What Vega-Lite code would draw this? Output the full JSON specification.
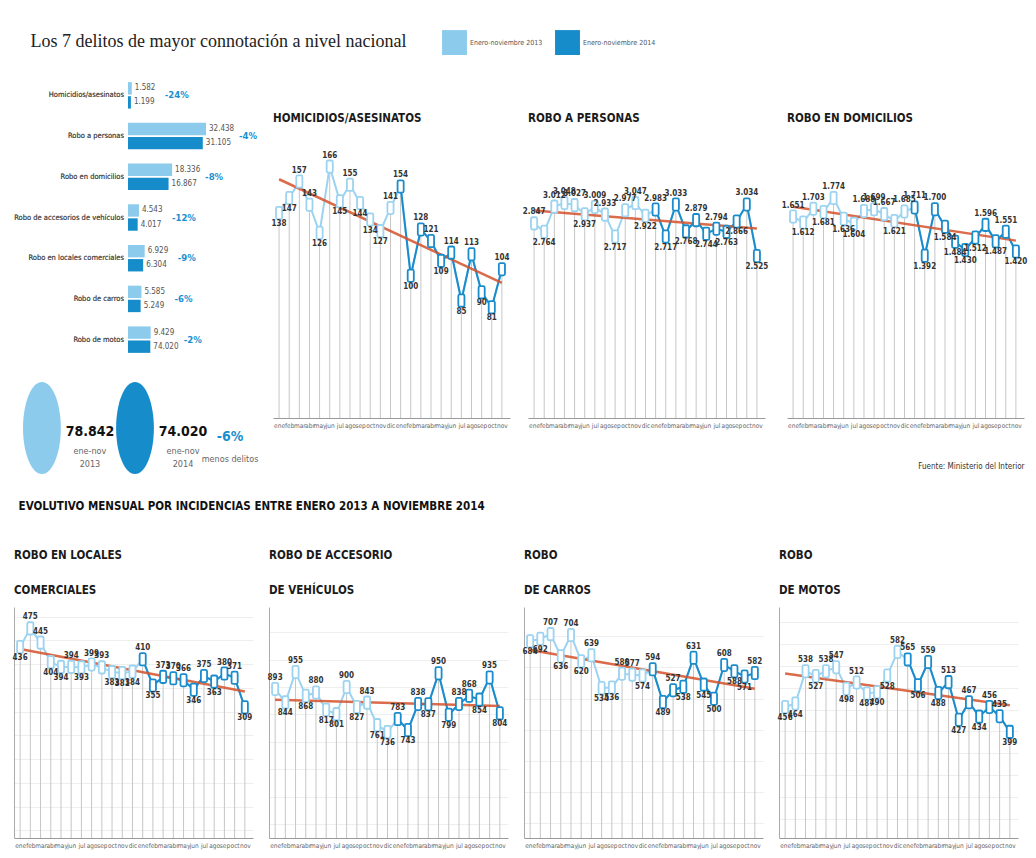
{
 "$schema": "https://vega.github.io/schema/vega-lite/v6.json",
 "padding": {"left": 12, "top": 30, "right": 0, "bottom": 4},
 "background": "white",
 "title": {"text": "Los 7 delitos de mayor connotación a nivel nacional", "anchor": "start", "frame": "bounds", "font": "Liberation Serif", "fontSize": 18, "fontWeight": "normal", "color": "#222", "dx": 18, "offset": -21},
 "datasets": {
  "m": [
   {"i":0,"yr":2013,"hom":138,"per":2847,"dom":1651,"loc":436,"acc":893,"car":684,"mot":456},
   {"i":1,"yr":2013,"hom":147,"per":2764,"dom":1612,"loc":475,"acc":844,"car":692,"mot":464},
   {"i":2,"yr":2013,"hom":157,"per":3012,"dom":1703,"loc":445,"acc":955,"car":707,"mot":538},
   {"i":3,"yr":2013,"hom":143,"per":3048,"dom":1681,"loc":404,"acc":868,"car":636,"mot":527},
   {"i":4,"yr":2013,"hom":126,"per":3027,"dom":1774,"loc":394,"acc":880,"car":704,"mot":538},
   {"i":5,"yr":2013,"hom":166,"per":2937,"dom":1636,"loc":394,"acc":817,"car":620,"mot":547},
   {"i":6,"yr":2013,"hom":145,"per":3009,"dom":1604,"loc":393,"acc":801,"car":639,"mot":498},
   {"i":7,"yr":2013,"hom":155,"per":2933,"dom":1688,"loc":399,"acc":900,"car":534,"mot":512},
   {"i":8,"yr":2013,"hom":144,"per":2717,"dom":1699,"loc":393,"acc":827,"car":536,"mot":487},
   {"i":9,"yr":2013,"hom":134,"per":2977,"dom":1667,"loc":383,"acc":843,"car":580,"mot":490},
   {"i":10,"yr":2013,"hom":127,"per":3047,"dom":1621,"loc":381,"acc":761,"car":577,"mot":528},
   {"i":11,"yr":2013,"hom":141,"per":2922,"dom":1685,"loc":384,"acc":736,"car":574,"mot":582},
   {"i":12,"yr":2014,"hom":154,"per":2983,"dom":1711,"loc":410,"acc":783,"car":594,"mot":565},
   {"i":13,"yr":2014,"hom":100,"per":2717,"dom":1392,"loc":355,"acc":743,"car":489,"mot":506},
   {"i":14,"yr":2014,"hom":128,"per":3033,"dom":1700,"loc":373,"acc":838,"car":527,"mot":559},
   {"i":15,"yr":2014,"hom":121,"per":2768,"dom":1584,"loc":370,"acc":837,"car":538,"mot":488},
   {"i":16,"yr":2014,"hom":109,"per":2879,"dom":1484,"loc":366,"acc":950,"car":631,"mot":513},
   {"i":17,"yr":2014,"hom":114,"per":2744,"dom":1430,"loc":346,"acc":799,"car":545,"mot":427},
   {"i":18,"yr":2014,"hom":85,"per":2794,"dom":1512,"loc":375,"acc":838,"car":500,"mot":467},
   {"i":19,"yr":2014,"hom":113,"per":2763,"dom":1596,"loc":363,"acc":868,"car":608,"mot":434},
   {"i":20,"yr":2014,"hom":90,"per":2866,"dom":1487,"loc":380,"acc":854,"car":588,"mot":456},
   {"i":21,"yr":2014,"hom":81,"per":3034,"dom":1551,"loc":371,"acc":935,"car":571,"mot":435},
   {"i":22,"yr":2014,"hom":104,"per":2525,"dom":1420,"loc":309,"acc":804,"car":582,"mot":399}
  ],
  "bars": [
   {"d":"Homicidios/asesinatos","a":"Enero-noviembre 2013","v":1582,"lab":"1.582","pct":"-24%"},
   {"d":"Homicidios/asesinatos","a":"Enero-noviembre 2014","v":1199,"lab":"1.199"},
   {"d":"Robo a personas","a":"Enero-noviembre 2013","v":32438,"lab":"32.438","pct":"-4%"},
   {"d":"Robo a personas","a":"Enero-noviembre 2014","v":31105,"lab":"31.105"},
   {"d":"Robo en domicilios","a":"Enero-noviembre 2013","v":18336,"lab":"18.336","pct":"-8%"},
   {"d":"Robo en domicilios","a":"Enero-noviembre 2014","v":16867,"lab":"16.867"},
   {"d":"Robo de accesorios de vehículos","a":"Enero-noviembre 2013","v":4543,"lab":"4.543","pct":"-12%"},
   {"d":"Robo de accesorios de vehículos","a":"Enero-noviembre 2014","v":4017,"lab":"4.017"},
   {"d":"Robo en locales comerciales","a":"Enero-noviembre 2013","v":6929,"lab":"6.929","pct":"-9%"},
   {"d":"Robo en locales comerciales","a":"Enero-noviembre 2014","v":6304,"lab":"6.304"},
   {"d":"Robo de carros","a":"Enero-noviembre 2013","v":5585,"lab":"5.585","pct":"-6%"},
   {"d":"Robo de carros","a":"Enero-noviembre 2014","v":5249,"lab":"5.249"},
   {"d":"Robo de motos","a":"Enero-noviembre 2013","v":9429,"lab":"9.429","pct":"-2%"},
   {"d":"Robo de motos","a":"Enero-noviembre 2014","v":9279,"lab":"74.020"}
  ]
 },
 "spacing": 23,
 "vconcat": [
  {"spacing": 12, "hconcat": [
   {"spacing": 17, "vconcat": [
    {"width": 208, "height": 287, "data": {"name": "bars"},
     "encoding": {"y": {"field": "d", "type": "nominal", "sort": null, "title": null, "scale": {"paddingInner": 0.35, "paddingOuter": 0.2}, "axis": null}},
     "layer": [
      {"mark": {"type": "bar"}, "encoding": {"x": {"field": "v", "type": "quantitative", "scale": {"domain": [-47410, 39090], "nice": false}, "axis": null}, "yOffset": {"field": "a", "type": "nominal", "scale": {"paddingInner": 0.12}}, "color": {"field": "a", "type": "nominal", "scale": {"range": ["#8ccbec", "#168ccb"]}, "legend": {"title": null, "orient": "none", "legendX": 428, "legendY": -44, "direction": "horizontal", "symbolType": "square", "symbolSize": 620, "symbolStrokeWidth": 0, "symbolOpacity": 1, "labelFontSize": 7, "labelColor": "#555", "labelOffset": 3, "columnPadding": 12}}}},
      {"mark": {"type": "text", "align": "right", "dx": -4, "fontSize": 7.5, "color": "#555"}, "encoding": {"x": {"datum": 0, "type": "quantitative"}, "text": {"field": "d"}}},
      {"mark": {"type": "text", "align": "left", "dx": 3, "fontSize": 8, "color": "#555"}, "encoding": {"x": {"field": "v", "type": "quantitative"}, "yOffset": {"field": "a", "type": "nominal", "scale": {"paddingInner": 0.12}}, "text": {"field": "lab"}}},
      {"transform": [{"joinaggregate": [{"op": "max", "field": "v", "as": "mx"}], "groupby": ["d"]}, {"filter": "datum.a == 'Enero-noviembre 2013'"}], "mark": {"type": "text", "align": "left", "dx": 33, "fontSize": 9.5, "fontWeight": "bold", "color": "#1a8fd0"}, "encoding": {"x": {"field": "mx", "type": "quantitative"}, "text": {"field": "pct"}}}
     ]},
    {"width": 242, "height": 100,
     "data": {"values": [{"k":"2013","n":"78.842","l1":"ene-nov","l2":"2013"},{"k":"2014","n":"74.020","l1":"ene-nov","l2":"2014"},{"k":"dif","n":"-6%","l1":"menos delitos","l2":""}]},
     "encoding": {"x": {"field": "k", "type": "nominal", "sort": null, "scale": {"type": "point", "padding": 0.3}, "axis": null}},
     "layer": [
      {"transform": [{"filter": "datum.k != 'dif'"}], "mark": {"type": "point", "shape": "M0,-1A0.41,1,0,1,1,0,1A0.41,1,0,1,1,0,-1Z", "size": 8500, "filled": true, "opacity": 1, "strokeWidth": 0}, "encoding": {"color": {"condition": {"test": "datum.k == '2014'", "value": "#168ccb"}, "value": "#8ccbec"}}},
      {"transform": [{"filter": "datum.k != 'dif'"}], "mark": {"type": "text", "dx": 48, "dy": 4, "fontSize": 14, "fontWeight": "bold", "color": "#111"}, "encoding": {"text": {"field": "n"}}},
      {"transform": [{"filter": "datum.k != 'dif'"}], "mark": {"type": "text", "dx": 48, "dy": 23, "fontSize": 9, "color": "#666"}, "encoding": {"text": {"field": "l1"}}},
      {"transform": [{"filter": "datum.k != 'dif'"}], "mark": {"type": "text", "dx": 48, "dy": 36, "fontSize": 9, "color": "#666"}, "encoding": {"text": {"field": "l2"}}},
      {"transform": [{"filter": "datum.k == 'dif'"}], "mark": {"type": "text", "dx": 2, "dy": 9, "fontSize": 14, "fontWeight": "bold", "color": "#1a8fd0"}, "encoding": {"text": {"field": "n"}}},
      {"transform": [{"filter": "datum.k == 'dif'"}], "mark": {"type": "text", "dx": 2, "dy": 31, "fontSize": 9, "color": "#666"}, "encoding": {"text": {"field": "l1"}}}
     ]}
   ]},
   {"spacing": 12, "hconcat": [
   {"width": 237, "height": 344, "data": {"name": "m"},
    "title": {"text": "HOMICIDIOS/ASESINATOS", "offset": -50, "frame": "group"},
    "encoding": {"x": {"field": "i", "type": "quantitative", "title": null, "scale": {"domain": [-0.6, 22.8], "nice": false, "zero": false}},
     "y": {"field": "hom", "type": "quantitative", "title": null, "scale": {"domain": [14, 222], "nice": false, "zero": false}, "axis": {"grid": false, "domain": false}}},
    "layer": [
     {"mark": {"type": "rule", "color": "#c6c6c6", "strokeWidth": 1}, "encoding": {"y2": {"datum": 14}}},
     {"mark": {"type": "line", "color": "#9cd3f1", "strokeWidth": 2}, "encoding": {}},
     {"transform": [{"filter": "datum.yr == 2014"}], "mark": {"type": "line", "color": "#1a8ccb", "strokeWidth": 2}, "encoding": {}},
     {"transform": [{"regression": "hom", "on": "i"}], "mark": {"type": "line", "color": "#d4512c", "strokeWidth": 2.5, "opacity": 0.85}, "encoding": {}},
     {"mark": {"type": "point", "shape": "M-0.5,-0.75Q-0.5,-1,-0.25,-1L0.25,-1Q0.5,-1,0.5,-0.75L0.5,0.75Q0.5,1,0.25,1L-0.25,1Q-0.5,1,-0.5,0.75Z", "size": 150, "filled": true, "fill": "white", "strokeWidth": 1.8, "opacity": 1}, "encoding": {"stroke": {"condition": {"test": "datum.yr == 2014", "value": "#1a8ccb"}, "value": "#9cd3f1"}}},
     {"transform": [{"window": [{"op": "lag", "field": "hom", "as": "p"}, {"op": "lead", "field": "hom", "as": "n"}], "sort": [{"field": "i"}]}, {"calculate": "datum.hom >= ((datum.p == null ? datum.n : datum.p) + (datum.n == null ? datum.p : datum.n)) / 2", "as": "up"}],
      "layer": [
       {"transform": [{"filter": "datum.up"}], "mark": {"type": "text", "baseline": "bottom", "dy": -7, "fontSize": 8, "fontWeight": "bold", "color": "#333"}, "encoding": {"text": {"field": "hom", "format": ",d"}}},
       {"transform": [{"filter": "!datum.up"}], "mark": {"type": "text", "baseline": "top", "dy": 7, "fontSize": 8, "fontWeight": "bold", "color": "#333"}, "encoding": {"text": {"field": "hom", "format": ",d"}}}
      ]}
    ]},
   {"width": 237, "height": 344, "data": {"name": "m"},
    "title": {"text": "ROBO A PERSONAS", "offset": -50, "frame": "group"},
    "encoding": {"x": {"field": "i", "type": "quantitative", "title": null, "scale": {"domain": [-0.6, 22.8], "nice": false, "zero": false}},
     "y": {"field": "per", "type": "quantitative", "title": null, "scale": {"domain": [926, 4321], "nice": false, "zero": false}, "axis": {"grid": false, "domain": false}}},
    "layer": [
     {"mark": {"type": "rule", "color": "#c6c6c6", "strokeWidth": 1}, "encoding": {"y2": {"datum": 926}}},
     {"mark": {"type": "line", "color": "#9cd3f1", "strokeWidth": 2}, "encoding": {}},
     {"transform": [{"filter": "datum.yr == 2014"}], "mark": {"type": "line", "color": "#1a8ccb", "strokeWidth": 2}, "encoding": {}},
     {"transform": [{"regression": "per", "on": "i"}], "mark": {"type": "line", "color": "#d4512c", "strokeWidth": 2.5, "opacity": 0.85}, "encoding": {}},
     {"mark": {"type": "point", "shape": "M-0.5,-0.75Q-0.5,-1,-0.25,-1L0.25,-1Q0.5,-1,0.5,-0.75L0.5,0.75Q0.5,1,0.25,1L-0.25,1Q-0.5,1,-0.5,0.75Z", "size": 150, "filled": true, "fill": "white", "strokeWidth": 1.8, "opacity": 1}, "encoding": {"stroke": {"condition": {"test": "datum.yr == 2014", "value": "#1a8ccb"}, "value": "#9cd3f1"}}},
     {"transform": [{"window": [{"op": "lag", "field": "per", "as": "p"}, {"op": "lead", "field": "per", "as": "n"}], "sort": [{"field": "i"}]}, {"calculate": "datum.per >= ((datum.p == null ? datum.n : datum.p) + (datum.n == null ? datum.p : datum.n)) / 2", "as": "up"}],
      "layer": [
       {"transform": [{"filter": "datum.up"}], "mark": {"type": "text", "baseline": "bottom", "dy": -7, "fontSize": 8, "fontWeight": "bold", "color": "#333"}, "encoding": {"text": {"field": "per", "format": ",d"}}},
       {"transform": [{"filter": "!datum.up"}], "mark": {"type": "text", "baseline": "top", "dy": 7, "fontSize": 8, "fontWeight": "bold", "color": "#333"}, "encoding": {"text": {"field": "per", "format": ",d"}}}
      ]}
    ]},
   {"width": 237, "height": 344, "data": {"name": "m"},
    "title": {"text": "ROBO EN DOMICILIOS", "offset": -50, "frame": "group"},
    "encoding": {"x": {"field": "i", "type": "quantitative", "title": "Fuente: Ministerio del Interior", "scale": {"domain": [-0.6, 22.8], "nice": false, "zero": false}, "axis": {"titleAnchor": "end", "titlePadding": 34, "titleFontSize": 8, "titleFontWeight": "normal", "titleColor": "#333"}},
     "y": {"field": "dom", "type": "quantitative", "title": null, "scale": {"domain": [317, 2595], "nice": false, "zero": false}, "axis": {"grid": false, "domain": false}}},
    "layer": [
     {"mark": {"type": "rule", "color": "#c6c6c6", "strokeWidth": 1}, "encoding": {"y2": {"datum": 317}}},
     {"mark": {"type": "line", "color": "#9cd3f1", "strokeWidth": 2}, "encoding": {}},
     {"transform": [{"filter": "datum.yr == 2014"}], "mark": {"type": "line", "color": "#1a8ccb", "strokeWidth": 2}, "encoding": {}},
     {"transform": [{"regression": "dom", "on": "i"}], "mark": {"type": "line", "color": "#d4512c", "strokeWidth": 2.5, "opacity": 0.85}, "encoding": {}},
     {"mark": {"type": "point", "shape": "M-0.5,-0.75Q-0.5,-1,-0.25,-1L0.25,-1Q0.5,-1,0.5,-0.75L0.5,0.75Q0.5,1,0.25,1L-0.25,1Q-0.5,1,-0.5,0.75Z", "size": 150, "filled": true, "fill": "white", "strokeWidth": 1.8, "opacity": 1}, "encoding": {"stroke": {"condition": {"test": "datum.yr == 2014", "value": "#1a8ccb"}, "value": "#9cd3f1"}}},
     {"transform": [{"window": [{"op": "lag", "field": "dom", "as": "p"}, {"op": "lead", "field": "dom", "as": "n"}], "sort": [{"field": "i"}]}, {"calculate": "datum.dom >= ((datum.p == null ? datum.n : datum.p) + (datum.n == null ? datum.p : datum.n)) / 2", "as": "up"}],
      "layer": [
       {"transform": [{"filter": "datum.up"}], "mark": {"type": "text", "baseline": "bottom", "dy": -7, "fontSize": 8, "fontWeight": "bold", "color": "#333"}, "encoding": {"text": {"field": "dom", "format": ",d"}}},
       {"transform": [{"filter": "!datum.up"}], "mark": {"type": "text", "baseline": "top", "dy": 7, "fontSize": 8, "fontWeight": "bold", "color": "#333"}, "encoding": {"text": {"field": "dom", "format": ",d"}}}
      ]}
    ]}
   ]}
  ]},
  {"spacing": 14,
   "title": {"text": "EVOLUTIVO MENSUAL POR INCIDENCIAS ENTRE ENERO 2013 A NOVIEMBRE 2014", "anchor": "start", "frame": "bounds", "font": "DejaVu Sans Condensed", "fontSize": 11.5, "fontWeight": "bold", "color": "#111", "dx": 6, "offset": 37},
   "hconcat": [
   {"width": 239, "height": 231, "data": {"name": "m"},
    "title": {"text": ["ROBO EN LOCALES", "COMERCIALES"], "lineHeight": 35, "offset": 11, "frame": "group"},
    "encoding": {"x": {"field": "i", "type": "quantitative", "title": null, "scale": {"domain": [-0.6, 22.8], "nice": false, "zero": false}},
     "y": {"field": "loc", "type": "quantitative", "title": null, "scale": {"domain": [34, 520], "nice": false, "zero": false}}},
    "layer": [
     {"mark": {"type": "rule", "color": "#c6c6c6", "strokeWidth": 1}, "encoding": {"y2": {"datum": 34}}},
     {"mark": {"type": "line", "color": "#9cd3f1", "strokeWidth": 2}, "encoding": {}},
     {"transform": [{"filter": "datum.yr == 2014"}], "mark": {"type": "line", "color": "#1a8ccb", "strokeWidth": 2}, "encoding": {}},
     {"transform": [{"regression": "loc", "on": "i"}], "mark": {"type": "line", "color": "#d4512c", "strokeWidth": 2.5, "opacity": 0.85}, "encoding": {}},
     {"mark": {"type": "point", "shape": "M-0.5,-0.75Q-0.5,-1,-0.25,-1L0.25,-1Q0.5,-1,0.5,-0.75L0.5,0.75Q0.5,1,0.25,1L-0.25,1Q-0.5,1,-0.5,0.75Z", "size": 150, "filled": true, "fill": "white", "strokeWidth": 1.8, "opacity": 1}, "encoding": {"stroke": {"condition": {"test": "datum.yr == 2014", "value": "#1a8ccb"}, "value": "#9cd3f1"}}},
     {"transform": [{"window": [{"op": "lag", "field": "loc", "as": "p"}, {"op": "lead", "field": "loc", "as": "n"}], "sort": [{"field": "i"}]}, {"calculate": "datum.loc >= ((datum.p == null ? datum.n : datum.p) + (datum.n == null ? datum.p : datum.n)) / 2", "as": "up"}],
      "layer": [
       {"transform": [{"filter": "datum.up"}], "mark": {"type": "text", "baseline": "bottom", "dy": -7, "fontSize": 8, "fontWeight": "bold", "color": "#333"}, "encoding": {"text": {"field": "loc", "format": ",d"}}},
       {"transform": [{"filter": "!datum.up"}], "mark": {"type": "text", "baseline": "top", "dy": 7, "fontSize": 8, "fontWeight": "bold", "color": "#333"}, "encoding": {"text": {"field": "loc", "format": ",d"}}}
      ]}
    ]},
   {"width": 239, "height": 231, "data": {"name": "m"},
    "title": {"text": ["ROBO DE ACCESORIO", "DE VEHÍCULOS"], "lineHeight": 35, "offset": 11, "frame": "group"},
    "encoding": {"x": {"field": "i", "type": "quantitative", "title": null, "scale": {"domain": [-0.6, 22.8], "nice": false, "zero": false}},
     "y": {"field": "acc", "type": "quantitative", "title": null, "scale": {"domain": [349, 1192], "nice": false, "zero": false}}},
    "layer": [
     {"mark": {"type": "rule", "color": "#c6c6c6", "strokeWidth": 1}, "encoding": {"y2": {"datum": 349}}},
     {"mark": {"type": "line", "color": "#9cd3f1", "strokeWidth": 2}, "encoding": {}},
     {"transform": [{"filter": "datum.yr == 2014"}], "mark": {"type": "line", "color": "#1a8ccb", "strokeWidth": 2}, "encoding": {}},
     {"transform": [{"regression": "acc", "on": "i"}], "mark": {"type": "line", "color": "#d4512c", "strokeWidth": 2.5, "opacity": 0.85}, "encoding": {}},
     {"mark": {"type": "point", "shape": "M-0.5,-0.75Q-0.5,-1,-0.25,-1L0.25,-1Q0.5,-1,0.5,-0.75L0.5,0.75Q0.5,1,0.25,1L-0.25,1Q-0.5,1,-0.5,0.75Z", "size": 150, "filled": true, "fill": "white", "strokeWidth": 1.8, "opacity": 1}, "encoding": {"stroke": {"condition": {"test": "datum.yr == 2014", "value": "#1a8ccb"}, "value": "#9cd3f1"}}},
     {"transform": [{"window": [{"op": "lag", "field": "acc", "as": "p"}, {"op": "lead", "field": "acc", "as": "n"}], "sort": [{"field": "i"}]}, {"calculate": "datum.acc >= ((datum.p == null ? datum.n : datum.p) + (datum.n == null ? datum.p : datum.n)) / 2", "as": "up"}],
      "layer": [
       {"transform": [{"filter": "datum.up"}], "mark": {"type": "text", "baseline": "bottom", "dy": -7, "fontSize": 8, "fontWeight": "bold", "color": "#333"}, "encoding": {"text": {"field": "acc", "format": ",d"}}},
       {"transform": [{"filter": "!datum.up"}], "mark": {"type": "text", "baseline": "top", "dy": 7, "fontSize": 8, "fontWeight": "bold", "color": "#333"}, "encoding": {"text": {"field": "acc", "format": ",d"}}}
      ]}
    ]},
   {"width": 239, "height": 231, "data": {"name": "m"},
    "title": {"text": ["ROBO", "DE CARROS"], "lineHeight": 35, "offset": 11, "frame": "group"},
    "encoding": {"x": {"field": "i", "type": "quantitative", "title": null, "scale": {"domain": [-0.6, 22.8], "nice": false, "zero": false}},
     "y": {"field": "car", "type": "quantitative", "title": null, "scale": {"domain": [53, 794], "nice": false, "zero": false}}},
    "layer": [
     {"mark": {"type": "rule", "color": "#c6c6c6", "strokeWidth": 1}, "encoding": {"y2": {"datum": 53}}},
     {"mark": {"type": "line", "color": "#9cd3f1", "strokeWidth": 2}, "encoding": {}},
     {"transform": [{"filter": "datum.yr == 2014"}], "mark": {"type": "line", "color": "#1a8ccb", "strokeWidth": 2}, "encoding": {}},
     {"transform": [{"regression": "car", "on": "i"}], "mark": {"type": "line", "color": "#d4512c", "strokeWidth": 2.5, "opacity": 0.85}, "encoding": {}},
     {"mark": {"type": "point", "shape": "M-0.5,-0.75Q-0.5,-1,-0.25,-1L0.25,-1Q0.5,-1,0.5,-0.75L0.5,0.75Q0.5,1,0.25,1L-0.25,1Q-0.5,1,-0.5,0.75Z", "size": 150, "filled": true, "fill": "white", "strokeWidth": 1.8, "opacity": 1}, "encoding": {"stroke": {"condition": {"test": "datum.yr == 2014", "value": "#1a8ccb"}, "value": "#9cd3f1"}}},
     {"transform": [{"window": [{"op": "lag", "field": "car", "as": "p"}, {"op": "lead", "field": "car", "as": "n"}], "sort": [{"field": "i"}]}, {"calculate": "datum.car >= ((datum.p == null ? datum.n : datum.p) + (datum.n == null ? datum.p : datum.n)) / 2", "as": "up"}],
      "layer": [
       {"transform": [{"filter": "datum.up"}], "mark": {"type": "text", "baseline": "bottom", "dy": -7, "fontSize": 8, "fontWeight": "bold", "color": "#333"}, "encoding": {"text": {"field": "car", "format": ",d"}}},
       {"transform": [{"filter": "!datum.up"}], "mark": {"type": "text", "baseline": "top", "dy": 7, "fontSize": 8, "fontWeight": "bold", "color": "#333"}, "encoding": {"text": {"field": "car", "format": ",d"}}}
      ]}
    ]},
   {"width": 239, "height": 231, "data": {"name": "m"},
    "title": {"text": ["ROBO", "DE MOTOS"], "lineHeight": 35, "offset": 11, "frame": "group"},
    "encoding": {"x": {"field": "i", "type": "quantitative", "title": null, "scale": {"domain": [-0.6, 22.8], "nice": false, "zero": false}},
     "y": {"field": "mot", "type": "quantitative", "title": null, "scale": {"domain": [156, 685], "nice": false, "zero": false}}},
    "layer": [
     {"mark": {"type": "rule", "color": "#c6c6c6", "strokeWidth": 1}, "encoding": {"y2": {"datum": 156}}},
     {"mark": {"type": "line", "color": "#9cd3f1", "strokeWidth": 2}, "encoding": {}},
     {"transform": [{"filter": "datum.yr == 2014"}], "mark": {"type": "line", "color": "#1a8ccb", "strokeWidth": 2}, "encoding": {}},
     {"transform": [{"regression": "mot", "on": "i"}], "mark": {"type": "line", "color": "#d4512c", "strokeWidth": 2.5, "opacity": 0.85}, "encoding": {}},
     {"mark": {"type": "point", "shape": "M-0.5,-0.75Q-0.5,-1,-0.25,-1L0.25,-1Q0.5,-1,0.5,-0.75L0.5,0.75Q0.5,1,0.25,1L-0.25,1Q-0.5,1,-0.5,0.75Z", "size": 150, "filled": true, "fill": "white", "strokeWidth": 1.8, "opacity": 1}, "encoding": {"stroke": {"condition": {"test": "datum.yr == 2014", "value": "#1a8ccb"}, "value": "#9cd3f1"}}},
     {"transform": [{"window": [{"op": "lag", "field": "mot", "as": "p"}, {"op": "lead", "field": "mot", "as": "n"}], "sort": [{"field": "i"}]}, {"calculate": "datum.mot >= ((datum.p == null ? datum.n : datum.p) + (datum.n == null ? datum.p : datum.n)) / 2", "as": "up"}],
      "layer": [
       {"transform": [{"filter": "datum.up"}], "mark": {"type": "text", "baseline": "bottom", "dy": -7, "fontSize": 8, "fontWeight": "bold", "color": "#333"}, "encoding": {"text": {"field": "mot", "format": ",d"}}},
       {"transform": [{"filter": "!datum.up"}], "mark": {"type": "text", "baseline": "top", "dy": 7, "fontSize": 8, "fontWeight": "bold", "color": "#333"}, "encoding": {"text": {"field": "mot", "format": ",d"}}}
      ]}
    ]}
  ]}
 ],
 "config": {
  "view": {"stroke": null},
  "font": "DejaVu Sans Condensed",
  "locale": {"number": {"decimal": ",", "thousands": ".", "grouping": [3], "currency": ["$", ""]}},
  "title": {"font": "DejaVu Sans Condensed", "fontSize": 11.5, "fontWeight": "bold", "color": "#1a1a1a", "anchor": "start", "frame": "group"},
  "axisX": {"ticks": false, "grid": false, "domainColor": "#9a9a9a", "labelFontSize": 6.5, "labelColor": "#666", "labelPadding": 4, "labelOverlap": false, "labelFlush": false, "labelBound": false, "tickCount": 30, "tickMinStep": 1, "labelExpr": "['ene','feb','mar','abr','may','jun','jul','ago','sep','oct','nov','dic'][datum.value % 12]"},
  "axisY": {"labels": false, "ticks": false, "domainColor": "#aaaaaa", "grid": true, "gridColor": "#eeeeee", "tickCount": 9}
 }
}
